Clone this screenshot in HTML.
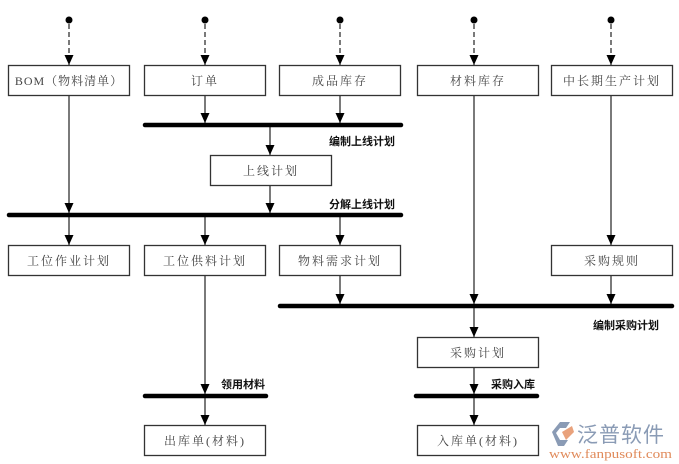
<!DOCTYPE html>
<html><head><meta charset="utf-8"><style>
html,body{margin:0;padding:0;background:#fff;}
svg{display:block;}
.b{fill:#fff;stroke:#333;stroke-width:1.3;}
.t{font-family:"Liberation Serif","Noto Serif CJK SC",serif;font-size:12px;fill:#444;text-anchor:middle;letter-spacing:2px;}
.l{font-family:"Liberation Sans","Noto Sans CJK SC",sans-serif;font-size:11px;font-weight:bold;fill:#111;}
.ln{stroke:#222;stroke-width:1.2;fill:none;}
.bar{stroke:#000;stroke-width:4.5;stroke-linecap:round;}
</style></head><body>
<svg width="679" height="464" viewBox="0 0 679 464" xmlns="http://www.w3.org/2000/svg">
<defs><marker id="a" markerWidth="11" markerHeight="11" refX="10" refY="5" orient="auto" markerUnits="userSpaceOnUse"><path d="M0,0.5 L10,5 L0,9.5 Z" fill="#000"/></marker></defs>
<g fill="#000">
<circle cx="69" cy="20" r="3.5"/><circle cx="205" cy="20" r="3.5"/><circle cx="340" cy="20" r="3.5"/><circle cx="474" cy="20" r="3.5"/><circle cx="611" cy="20" r="3.5"/>
</g>
<g class="ln" stroke-dasharray="5,3" marker-end="url(#a)">
<line x1="69" y1="24" x2="69" y2="65"/><line x1="205" y1="24" x2="205" y2="65"/><line x1="340" y1="24" x2="340" y2="65"/><line x1="474" y1="24" x2="474" y2="65"/><line x1="611" y1="24" x2="611" y2="65"/>
</g>
<g class="ln" marker-end="url(#a)">
<line x1="205" y1="96" x2="205" y2="123"/>
<line x1="340" y1="96" x2="340" y2="123"/>
<line x1="270" y1="126" x2="270" y2="155"/>
<line x1="270" y1="185" x2="270" y2="213"/>
<line x1="69" y1="96" x2="69" y2="213"/>
<line x1="69" y1="216" x2="69" y2="245"/>
<line x1="205" y1="216" x2="205" y2="245"/>
<line x1="340" y1="216" x2="340" y2="245"/>
<line x1="340" y1="276" x2="340" y2="304"/>
<line x1="474" y1="96" x2="474" y2="304"/>
<line x1="611" y1="96" x2="611" y2="245"/>
<line x1="611" y1="276" x2="611" y2="304"/>
<line x1="474" y1="307" x2="474" y2="337"/>
<line x1="474" y1="367" x2="474" y2="394"/>
<line x1="474" y1="397" x2="474" y2="425"/>
<line x1="205" y1="276" x2="205" y2="394"/>
<line x1="205" y1="397" x2="205" y2="425"/>
</g>
<g class="bar">
<line x1="145" y1="125" x2="401" y2="125"/>
<line x1="9" y1="215" x2="401" y2="215"/>
<line x1="280" y1="306" x2="672" y2="306"/>
<line x1="145" y1="396" x2="266" y2="396"/>
<line x1="416" y1="396" x2="537" y2="396"/>
</g>
<g class="b">
<rect x="8.5" y="65.5" width="121" height="30"/>
<rect x="144.5" y="65.5" width="121" height="30"/>
<rect x="279.5" y="65.5" width="121" height="30"/>
<rect x="417.5" y="65.5" width="121" height="30"/>
<rect x="551.5" y="65.5" width="121" height="30"/>
<rect x="210.5" y="155.5" width="121" height="30"/>
<rect x="8.5" y="245.5" width="121" height="30"/>
<rect x="144.5" y="245.5" width="121" height="30"/>
<rect x="279.5" y="245.5" width="121" height="30"/>
<rect x="551.5" y="245.5" width="121" height="30"/>
<rect x="417.5" y="337.5" width="121" height="30"/>
<rect x="144.5" y="425.5" width="121" height="30"/>
<rect x="417.5" y="425.5" width="121" height="30"/>
</g>
<g class="t">
<text x="69" y="85" letter-spacing="1">BOM（物料清单）</text>
<text x="205" y="85">订单</text>
<text x="340" y="85">成品库存</text>
<text x="478" y="85">材料库存</text>
<text x="612" y="85">中长期生产计划</text>
<text x="271" y="175">上线计划</text>
<text x="69" y="265">工位作业计划</text>
<text x="205" y="265">工位供料计划</text>
<text x="340" y="265">物料需求计划</text>
<text x="612" y="265">采购规则</text>
<text x="478" y="357">采购计划</text>
<text x="205" y="445">出库单(材料)</text>
<text x="478" y="445">入库单(材料)</text>
</g>
<g class="l">
<text x="329" y="145">编制上线计划</text>
<text x="329" y="208">分解上线计划</text>
<text x="593" y="329">编制采购计划</text>
<text x="221" y="388">领用材料</text>
<text x="491" y="388">采购入库</text>
</g>
<g>
<path d="M552,432 L560,422 L570,422 L566,428 L560,428 L556,433 L560,440 L568,440 L564,446 L558,446 Z" fill="#8a9bb5"/>
<path d="M562,432 L572,426 L574,432 L566,440 Z" fill="#e9a27c"/>
<text x="577" y="442" font-family="'Noto Sans CJK SC',sans-serif" font-size="21" fill="#8a9bb5" letter-spacing="1">泛普软件</text>
<text x="549" y="458" font-family="'Liberation Serif',serif" font-size="12.5" fill="#e08a5a" textLength="123" lengthAdjust="spacingAndGlyphs">www.fanpusoft.com</text>
</g>
</svg>
</body></html>
